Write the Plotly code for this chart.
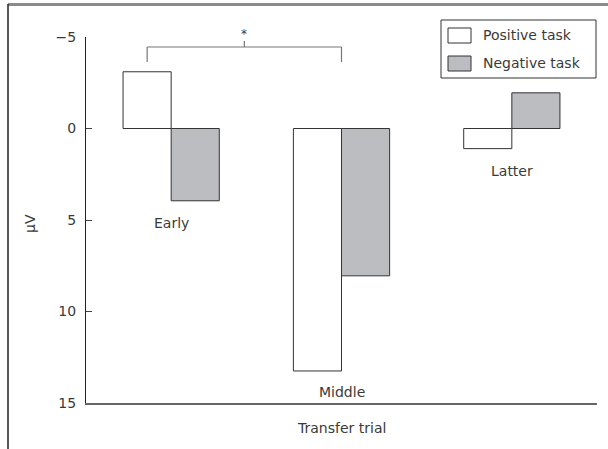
import plotly.graph_objects as go

categories = ["Early", "Middle", "Latter"]
positive_task = [-3.1, 13.25, 1.1]
negative_task = [3.95, 8.05, -1.95]
y_ticks = [-5, 0, 5, 10, 15]
y_tick_labels = ["\u22125", "0", "5", "10", "15"]
label_y = [5.15, 14.4, 2.3]

W, H = 608, 449
L, R, T, B = 86, 11, 37, 46
PW, PH = W - L - R, H - T - B


def px(x):
    return (x - L) / PW


def py(y):
    return (H - B - y) / PH


FONT = "DejaVu Sans"
TXT = "#3a3a3a"
EDGE = "#333333"
FS = 14

fig = go.Figure()
fig.add_bar(x=[0, 1, 2], y=positive_task, name="Positive task",
            marker=dict(color="white", line=dict(color=EDGE, width=1)))
fig.add_bar(x=[0, 1, 2], y=negative_task, name="Negative task",
            marker=dict(color="#bcbdc0", line=dict(color=EDGE, width=1)))

ann = []
for i, c in enumerate(categories):
    ann.append(dict(x=i, y=label_y[i], xref="x", yref="y", text=c, showarrow=False,
                    xanchor="center", yanchor="middle",
                    font=dict(size=FS, color=TXT, family=FONT)))

shapes = []
# outer frame (top rule and left rule)
shapes.append(dict(type="rect", xref="paper", yref="paper", x0=px(8), x1=px(608), y0=py(3), y1=py(6),
                   line=dict(width=0), fillcolor="#8a8a8a", layer="above"))
shapes.append(dict(type="line", xref="paper", yref="paper", x0=px(8), x1=px(8), y0=py(4), y1=py(449),
                   line=dict(color="#222222", width=1.5)))

# significance bracket
xl, xr = -0.141, 1.0
xm = (xl + xr) / 2
line_c = dict(color="#777777", width=1.2)
shapes.append(dict(type="line", xref="x", yref="paper", x0=xl, x1=xr, y0=py(47), y1=py(47), line=line_c))
shapes.append(dict(type="line", xref="x", yref="paper", x0=xl, x1=xl, y0=py(47), y1=py(62), line=line_c))
shapes.append(dict(type="line", xref="x", yref="paper", x0=xr, x1=xr, y0=py(47), y1=py(62), line=line_c))
shapes.append(dict(type="line", xref="x", yref="paper", x0=xm, x1=xm, y0=py(47), y1=py(41), line=line_c))
ann.append(dict(x=xm, y=py(34), xref="x", yref="paper", text="*", showarrow=False,
                xanchor="center", yanchor="middle",
                font=dict(size=12, color=TXT, family=FONT)))

# manual legend
shapes.append(dict(type="rect", xref="paper", yref="paper", x0=px(441), x1=px(596), y0=py(20), y1=py(78),
                   line=dict(color=EDGE, width=1), fillcolor="white"))
shapes.append(dict(type="rect", xref="paper", yref="paper", x0=px(448), x1=px(471), y0=py(28), y1=py(43),
                   line=dict(color=EDGE, width=1), fillcolor="white"))
shapes.append(dict(type="rect", xref="paper", yref="paper", x0=px(448), x1=px(471), y0=py(56), y1=py(71),
                   line=dict(color=EDGE, width=1), fillcolor="#bcbdc0"))
ann.append(dict(x=px(481), y=py(35), xref="paper", yref="paper", text="Positive task", showarrow=False,
                xanchor="left", yanchor="middle", font=dict(size=FS, color=TXT, family=FONT)))
ann.append(dict(x=px(481), y=py(63), xref="paper", yref="paper", text="Negative task", showarrow=False,
                xanchor="left", yanchor="middle", font=dict(size=FS, color=TXT, family=FONT)))

# axis titles
ann.append(dict(x=px(30), y=py(224), xref="paper", yref="paper", text="\u03bcV", showarrow=False,
                xanchor="center", yanchor="middle",
                textangle=-90, font=dict(size=FS, color=TXT, family=FONT)))
ann.append(dict(x=px(341), y=py(428), xref="paper", yref="paper", text="Transfer trial", showarrow=False,
                xanchor="center", yanchor="middle",
                font=dict(size=FS, color=TXT, family=FONT)))

fig.update_layout(
    width=W, height=H,
    margin=dict(l=L, r=R, t=T, b=B),
    paper_bgcolor="white", plot_bgcolor="white",
    barmode="group", bargap=0.435, bargroupgap=0,
    showlegend=False,
    font=dict(family=FONT, size=FS, color=TXT),
    annotations=ann, shapes=shapes,
    xaxis=dict(range=[-0.5, 2.5], showline=True, linecolor="#666666", linewidth=1.5,
               showticklabels=False, ticks="", showgrid=False, zeroline=False),
    yaxis=dict(range=[15, -5], tickvals=y_ticks, ticktext=y_tick_labels,
               showline=True, linecolor="#222222", linewidth=1.2,
               ticks="inside", ticklen=6, tickcolor="#444444", ticklabelstandoff=6,
               showgrid=False, zeroline=False, tickfont=dict(size=FS, color=TXT, family=FONT)),
)

fig.write_html("out.html", config={"displayModeBar": False},
               post_script="document.body.style.margin='0';")
